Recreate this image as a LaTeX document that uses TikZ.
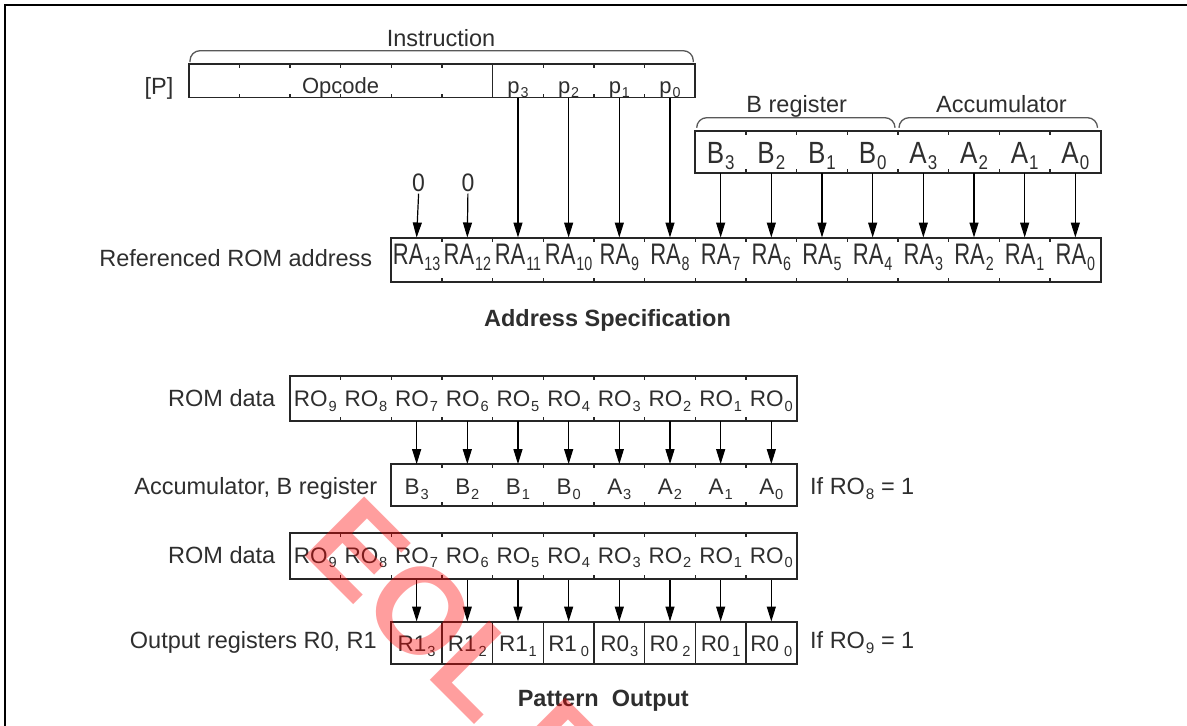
\documentclass[tikz,border=0pt]{standalone}
\usepackage{fontspec}
\setmainfont{Liberation Sans}
\usetikzlibrary{arrows.meta}
\definecolor{ink}{HTML}{2E2E2E}
\newcommand\subx[1]{\kern0.04em\raisebox{-0.2em}{\scalebox{0.65}{#1}}}
\newcommand\cx[1]{391.3+(#1+0.5)*50.67}
\begin{document}
\begin{tikzpicture}[x=1pt,y=-1pt,
  every node/.style={inner sep=0pt, text=ink},
  boxline/.style={draw=black!85, line width=1.8pt},
  tickline/.style={draw=black!85, line width=1.2pt},
  conn/.style={draw=black, line width=1.2pt, -{Triangle[length=15pt,width=9pt]}},
  bracket/.style={draw=black!65, line width=1.3pt, rounded corners=10pt},
  cell/.style={minimum width=50.67pt, minimum height=#1, draw=none},
  lbl/.style={font=\fontsize{23.5}{28}\selectfont},
  boldlbl/.style={font=\bfseries\fontsize{23.5}{28}\selectfont},
  rowA/.style={font=\fontsize{22}{26}\selectfont, anchor=base},
  rowB/.style={font=\fontsize{26}{30}\selectfont, anchor=base},
  rowC/.style={font=\fontsize{22}{26}\selectfont, anchor=base},
  rowL/.style={font=\fontsize{22.5}{26}\selectfont, anchor=base},
]
\useasboundingbox (0,0) rectangle (1187,726);
% frame
\draw[line width=2pt] (5,726) -- (5,5) -- (1187,5);

% ---------------- Instruction ----------------
\draw[bracket] (190,62) -- (190,50.7) -- (693.3,50.7) -- (693.3,62);
\node[lbl, anchor=base] (instr) at (441,46.7) {Instruction};
\node[lbl, anchor=base east] (plbl) at (173.5,94) {[P]};
\draw[boxline] (188.6,64) rectangle (695.3,97.5);
\draw[tickline] (492.6,64) -- (492.6,97.5);
\foreach \e in {-3,-2,-1,0,1,3,4,5}{
  \draw[tickline] ({391.3+\e*50.67},64) -- ++(0,4);
  \draw[tickline] ({391.3+\e*50.67},97.5) -- ++(0,-4);
}
\node[rowA] (opcode) at (340.6,93.5) {Opcode};
\foreach \n/\i/\t in {p3/2/3,p2/3/2,p1/4/1,p0/5/0}{
  \node[cell=33.5pt] (\n) at ({\cx{\i}},80.75) {};
  \node[rowA] at ({\cx{\i}},93.5) {p\subx{\t}};
}

% ---------------- B register / Accumulator ----------------
\draw[bracket] (696.7,126.7) -- (696.7,117.7) -- (895,117.7) -- (895,126.7);
\draw[bracket] (899,126.7) -- (899,117.7) -- (1097.5,117.7) -- (1097.5,126.7);
\node[lbl, anchor=base] (breg) at (796.7,112.3) {B register};
\node[lbl, anchor=base] (acc) at (1001.5,112.3) {Accumulator};
\draw[boxline] (695.3,131) rectangle (1100.7,173);
\foreach \e in {7,...,13}{
  \draw[tickline] ({391.3+\e*50.67},131) -- ++(0,4);
  \draw[tickline] ({391.3+\e*50.67},173) -- ++(0,-4);
}
\foreach \n/\i/\l/\t in {ub3/6/B/3,ub2/7/B/2,ub1/8/B/1,ub0/9/B/0,ua3/10/A/3,ua2/11/A/2,ua1/12/A/1,ua0/13/A/0}{
  \node[cell=42pt] (\n) at ({\cx{\i}},152) {};
  \node[rowB] at ({\cx{\i}},163.3) {\scalebox{1}[1.18]{\l\subx{\t}}};
}

% ---------------- Referenced ROM address ----------------
\node[lbl, anchor=base east] (ralbl) at (372.5,266.7) {Referenced ROM address};
\draw[boxline] (391.3,237.7) rectangle (1100.7,282);
\foreach \e in {1,...,13}{
  \draw[tickline] ({391.3+\e*50.67},237.7) -- ++(0,4);
  \draw[tickline] ({391.3+\e*50.67},282) -- ++(0,-4);
}
\foreach \i in {0,...,13}{
  \pgfmathtruncatemacro\k{13-\i}
  \node[cell=44.3pt] (ra\k) at ({\cx{\i}},259.85) {};
  \node[rowC] at ({\cx{\i}},264.5) {\scalebox{1}[1.35]{RA\subx{\k}}};
}
\node[rowB, font=\fontsize{23}{26}\selectfont] (z1) at (418.6,191.7) {\scalebox{1}[1.1]{0}};
\node[rowB, font=\fontsize{23}{26}\selectfont] (z2) at (467.9,191.7) {\scalebox{1}[1.1]{0}};
\draw[conn] (z1.south) ++(0,1.5) -- (ra13.north);
\draw[conn] (z2.south) ++(0,1.5) -- (ra12.north);
\foreach \a/\b in {p3/ra11,p2/ra10,p1/ra9,p0/ra8,ub3/ra7,ub2/ra6,ub1/ra5,ub0/ra4,ua3/ra3,ua2/ra2,ua1/ra1,ua0/ra0}{
  \draw[conn] (\a.south) -- (\b.north);
}
\node[boldlbl, anchor=base] (addrspec) at (607.5,326) {Address Specification};

% ---------------- Lower part: ROM data -> Accumulator, B register ----------------
\node[lbl, anchor=base east] (romlbl1) at (275.5,406.5) {ROM data};
\draw[boxline] (290,376) rectangle (796.7,421);
\foreach \e in {-1,...,7}{
  \draw[tickline] ({391.3+\e*50.67},376) -- ++(0,4);
  \draw[tickline] ({391.3+\e*50.67},421) -- ++(0,-4);
}
\foreach \i in {-2,...,7}{
  \pgfmathtruncatemacro\k{7-\i}
  \node[cell=45pt] (ra\k x) at ({\cx{\i}},398.5) {};
  \node[rowL] at ({\cx{\i}},406.5) {RO\subx{\k}};
}
\node[lbl, anchor=base east] (ablbl) at (377.5,494.5) {Accumulator, B register};
\draw[boxline] (391.3,464.3) rectangle (796.7,506);
\foreach \e in {1,...,7}{
  \draw[tickline] ({391.3+\e*50.67},464.3) -- ++(0,4);
  \draw[tickline] ({391.3+\e*50.67},506) -- ++(0,-4);
}
\foreach \n/\i/\l/\t in {lb3/0/B/3,lb2/1/B/2,lb1/2/B/1,lb0/3/B/0,la3/4/A/3,la2/5/A/2,la1/6/A/1,la0/7/A/0}{
  \node[cell=41.7pt] (\n) at ({\cx{\i}},485.15) {};
  \node[rowL] at ({\cx{\i}},494.8) {\l\subx{\t}};
}
\foreach \a/\b in {ra7x/lb3,ra6x/lb2,ra5x/lb1,ra4x/lb0,ra3x/la3,ra2x/la2,ra1x/la1,ra0x/la0}{
  \draw[conn] (\a.south) -- (\b.north);
}
\node[lbl, anchor=base west] (if8) at (810,494.5) {If RO\subx{8} = 1};

% ---------------- Lower part: ROM data -> Output registers ----------------
\node[lbl, anchor=base east] (romlbl2) at (275.5,563.3) {ROM data};
\draw[boxline] (290,533.3) rectangle (796.7,579.3);
\foreach \e in {-1,...,7}{
  \draw[tickline] ({391.3+\e*50.67},533.3) -- ++(0,4);
  \draw[tickline] ({391.3+\e*50.67},579.3) -- ++(0,-4);
}
\foreach \i in {-2,...,7}{
  \pgfmathtruncatemacro\k{7-\i}
  \node[cell=46pt] (rb\k x) at ({\cx{\i}},556.3) {};
  \node[rowL] at ({\cx{\i}},563.3) {RO\subx{\k}};
}
\node[lbl, anchor=base east] (outlbl) at (377,648.3) {Output registers R0, R1};
\draw[boxline] (391.3,621.7) rectangle (796.7,664);
\foreach \e in {1,...,7}{
  \draw[tickline] ({391.3+\e*50.67},621.7) -- ({391.3+\e*50.67},664);
}
\foreach \n/\i/\t in {o13/0/{R1\subx{3}},o12/1/{R1\kern1pt\subx{2}},o11/2/{R1\subx{1}},o10/3/{R1\kern3pt\subx{0}},o03/4/{R0\subx{3}},o02/5/{R0\kern3pt\subx{2}},o01/6/{R0\kern2pt\subx{1}},o00/7/{R0\kern4pt\subx{0}}}{
  \node[cell=42.3pt] (\n) at ({\cx{\i}},642.85) {};
  \node[rowL] at ({\cx{\i}},651.5) {\t};
}
\foreach \a/\b in {rb7x/o13,rb6x/o12,rb5x/o11,rb4x/o10,rb3x/o03,rb2x/o02,rb1x/o01,rb0x/o00}{
  \draw[conn] (\a.south) -- (\b.north);
}
\node[lbl, anchor=base west] (if9) at (810,648.3) {If RO\subx{9} = 1};
\node[boldlbl, anchor=base] (patout) at (603.3,706.7) {Pattern\ \ Output};

% ---------------- watermark ----------------
\node[rotate=-45, anchor=base west, font=\bfseries\fontsize{122}{122}\selectfont, text=red, text opacity=0.38] (wm) at (299.5,550) {EOL EOL};
\end{tikzpicture}
\end{document}
